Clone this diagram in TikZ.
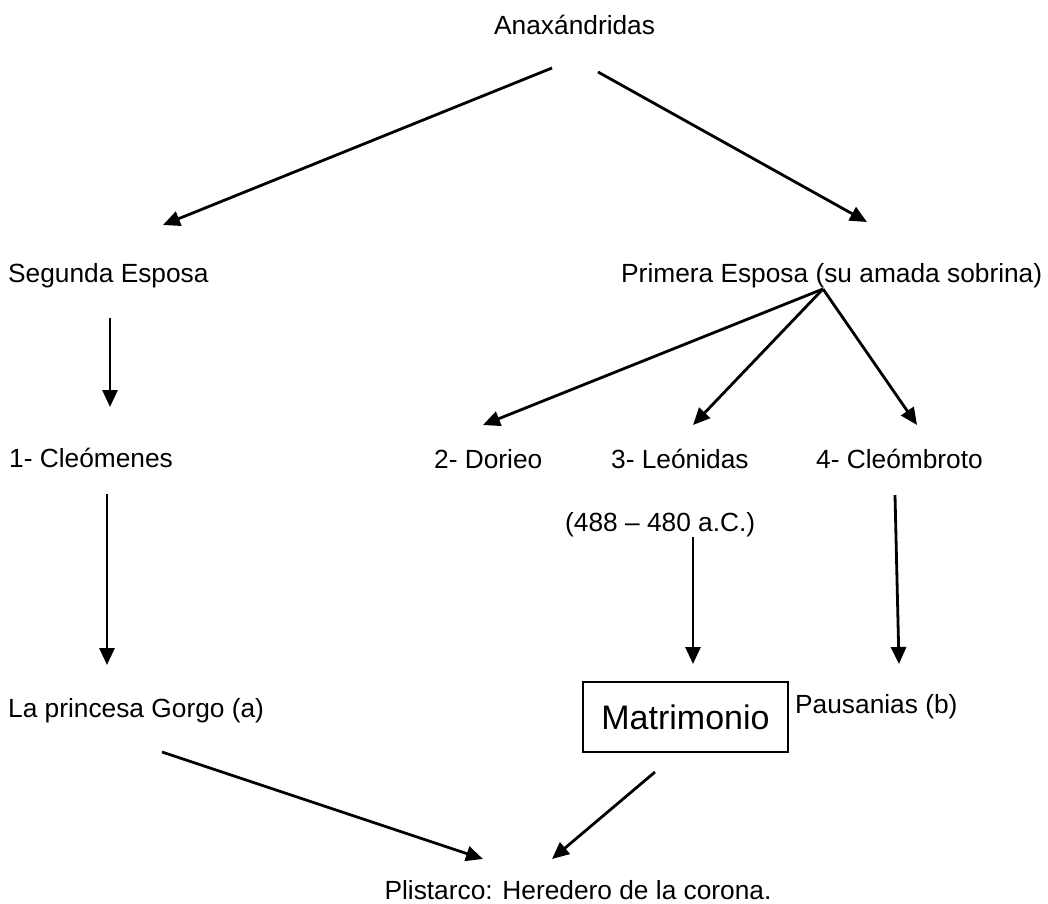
\documentclass[tikz,border=0pt]{standalone}
\usepackage{fontspec}
\setmainfont{Liberation Sans}
\usetikzlibrary{arrows.meta}
\begin{document}
\begin{tikzpicture}[x=1bp,y=-1bp,
  lbl/.style={anchor=base west,inner sep=0pt,font=\fontsize{26.3bp}{31bp}\selectfont},
  arr/.style={line width=2.8bp,-{Triangle[length=17bp,width=15bp]}},
  boxn/.style={draw,line width=1.8bp,minimum width=205bp,minimum height=70bp,inner sep=0pt,font=\fontsize{34bp}{40bp}\selectfont}]
\useasboundingbox (0,0) rectangle (1048,904);
% texts
\node[lbl] (anax) at (494,34) {Anaxándridas};
\node[lbl] (seg) at (8,282) {Segunda Esposa};
\node[lbl] (prim) at (621,282) {Primera Esposa (su amada sobrina)};
\node[lbl] (cleo) at (9,467) {1- Cleómenes};
\node[lbl] (dor) at (434,468) {2- Dorieo};
\node[lbl] (leo) at (611,468) {3- Leónidas};
\node[lbl] (cbro) at (816,468) {4- Cleómbroto};
\node[lbl] (fech) at (565,531) {(488 – 480 a.C.)};
\node[lbl] (gorgo) at (8,717) {La princesa Gorgo (a)};
\node[boxn] (matr) at (685.5,717) {Matrimonio};
\node[lbl] (paus) at (795,713) {Pausanias (b)};
\node[lbl,anchor=base] (plis) at (578,899) {Plistarco: Heredero de la corona.};
% arrow end points
\coordinate (a1s) at (552,68);  \coordinate (a1e) at (163,225);
\coordinate (a2s) at (598,72);  \coordinate (a2e) at (867,222);
\coordinate (a3s) at (110,318); \coordinate (a3e) at (110,407);
\coordinate (po) at (823,289);
\coordinate (a4e) at (483,425);
\coordinate (a5e) at (693,425);
\coordinate (a6e) at (917,425);
\coordinate (a7s) at (107,494); \coordinate (a7e) at (107,665);
\coordinate (a8s) at (693,537); \coordinate (a8e) at (693,664);
\coordinate (a9s) at (895,495); \coordinate (a9e) at (899,664);
\coordinate (a10s) at (162,752); \coordinate (a10e) at (483,859);
\coordinate (a11s) at (655,772); \coordinate (a11e) at (552,859);
% arrows
\draw[arr] (a1s) -- (a1e);
\draw[arr] (a2s) -- (a2e);
\draw[arr] (a3s) -- (a3e);
\draw[arr] (po) -- (a4e);
\draw[arr] (po) -- (a5e);
\draw[arr] (po) -- (a6e);
\draw[arr] (a7s) -- (a7e);
\draw[arr] (a8s) -- (a8e);
\draw[arr] (a9s) -- (a9e);
\draw[arr] (a10s) -- (a10e);
\draw[arr] (a11s) -- (a11e);
\end{tikzpicture}
\end{document}
